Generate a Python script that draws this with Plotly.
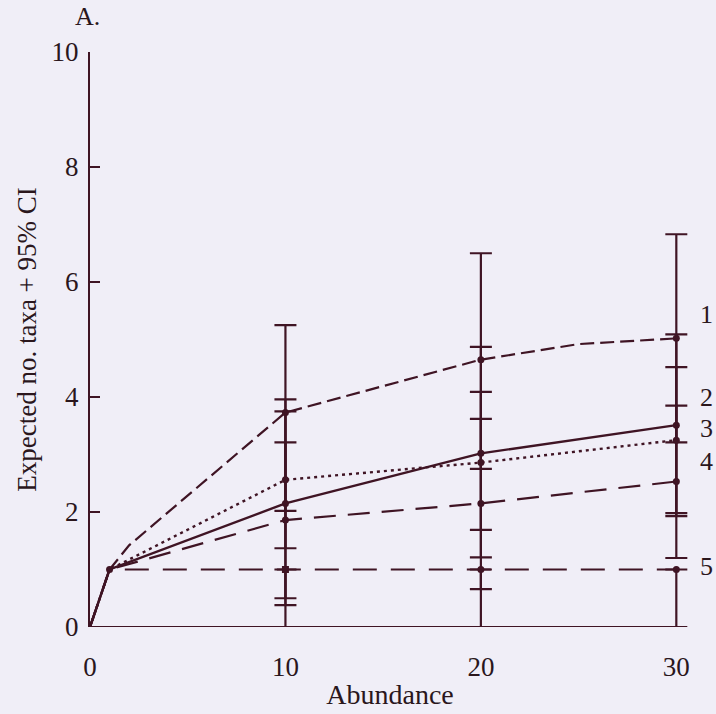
import plotly.graph_objects as go

# ---- data ----
x_line = [0, 1, 10, 20, 30]
s1_x = [0, 1, 2, 10, 20, 25, 30]
s1_y = [0, 1, 1.42, 3.73, 4.65, 4.92, 5.02]
s2_y = [0, 1, 1.86, 2.15, 2.53]
s3_y = [0, 1, 2.15, 3.02, 3.51]
s4_y = [0, 1, 2.56, 2.86, 3.25]
s5_y = [0, 1, 1, 1, 1]

x_ci = [10, 20, 30]
s1_mean = [3.73, 4.65, 5.02]
s1_hi = [5.25, 6.50, 6.83]
s1_lo = [2.02, 2.75, 3.21]
s2_mean = [1.86, 2.15, 2.53]
s2_hi = [3.21, 3.62, 3.85]
s2_lo = [0.50, 0.66, 1.20]
s3_mean = [2.15, 3.02, 3.51]
s3_hi = [3.96, 4.87, 5.09]
s3_lo = [0.38, 1.21, 1.93]
s4_mean = [2.56, 2.86, 3.25]
s4_hi = [3.75, 4.09, 4.52]
s4_lo = [1.37, 1.69, 1.98]
s5_mean = [1, 1, 1]
s5_hi = [1, 1, 1]
s5_lo = [0, 0, 0]

label_text = ["1", "2", "3", "4", "5"]
label_y = [5.43, 4.0, 3.46, 2.88, 1.05]

x_ticks = [0, 10, 20, 30]
y_ticks = [0, 2, 4, 6, 8, 10]
X_MAX = 30

LINE = "#3f1424"
TEXT = "#2a161c"
BG = "#f0eef7"
FONT = "Liberation Serif"

# layout geometry (pixels)
W, H = 716, 714
ML, MT, MB = 90, 52, 87
X_PAD = 0.7                      # extra room right of x=30 so caps are not clipped
px_per_unit = (676 - ML) / X_MAX
MR = W - 676 - X_PAD * px_per_unit
PW = W - ML - MR
PH = H - MT - MB

fig = go.Figure()

lines = [
    (s1_x, s1_y, "14px,6px", 2.2),
    (x_line, s2_y, "22px,12px", 2.2),
    (x_line, s3_y, "solid", 2.4),
    (x_line, s4_y, "3px,4px", 2.4),
    (x_line, s5_y, "24px,14px", 2.2),
]
for xs, ys, dash, w in lines:
    fig.add_trace(go.Scatter(x=xs, y=ys, mode="lines",
                             line=dict(color=LINE, width=w, dash=dash),
                             showlegend=False, hoverinfo="skip"))

ci = [
    (s1_mean, s1_hi, s1_lo, "circle"),
    (s2_mean, s2_hi, s2_lo, "circle"),
    (s3_mean, s3_hi, s3_lo, "circle"),
    (s4_mean, s4_hi, s4_lo, "circle"),
    (s5_mean, s5_hi, s5_lo, ["square", "circle", "circle"]),
]
for mean, hi, lo, sym in ci:
    fig.add_trace(go.Scatter(
        x=x_ci, y=mean, mode="markers",
        marker=dict(color=LINE, size=7, symbol=sym),
        error_y=dict(type="data", symmetric=False,
                     array=[h - m for h, m in zip(hi, mean)],
                     arrayminus=[m - l for m, l in zip(mean, lo)],
                     color=LINE, thickness=2.2, width=11),
        showlegend=False, hoverinfo="skip", cliponaxis=False))

# start point dot at (1,1)
fig.add_trace(go.Scatter(x=[x_line[1]], y=[s3_y[1]], mode="markers",
                         marker=dict(color=LINE, size=7),
                         showlegend=False, hoverinfo="skip"))

# x axis line only from 0 to 30
fig.add_shape(type="line", xref="x", yref="y", x0=0, x1=X_MAX, y0=0, y1=0,
              line=dict(color=LINE, width=2), layer="above")

label_xp = (706 - ML) / PW
for t, yv in zip(label_text, label_y):
    fig.add_annotation(x=label_xp, y=yv, xref="paper", yref="y", text=t,
                       xanchor="center", yanchor="middle",
                       showarrow=False, font=dict(size=26, color=TEXT, family=FONT))

fig.add_annotation(x=(88 - ML) / PW, y=1 + (MT - 17) / PH, xref="paper", yref="paper",
                   text="A.", xanchor="center", yanchor="middle",
                   showarrow=False, font=dict(size=26, color=TEXT, family=FONT))

fig.update_layout(
    width=W, height=H,
    margin=dict(l=ML, r=MR, t=MT, b=MB, autoexpand=False),
    paper_bgcolor=BG, plot_bgcolor=BG,
    font=dict(family=FONT, size=27, color=TEXT),
    xaxis=dict(range=[0, X_MAX + X_PAD], tickvals=x_ticks, ticks="", showgrid=False,
               zeroline=False, showline=False,
               ticklabelstandoff=21,
               title=dict(text="Abundance", standoff=3, font=dict(size=28))),
    yaxis=dict(range=[0, 10], tickvals=y_ticks, ticks="inside", ticklen=10,
               tickwidth=2, tickcolor=LINE, showgrid=False, zeroline=False,
               showline=True, linecolor=LINE, linewidth=2, mirror=False,
               ticklabelstandoff=4, layer="above traces",
               title=dict(text="Expected no. taxa + 95% CI", standoff=7,
                          font=dict(size=27))),
)

fig.write_html("out.html")
